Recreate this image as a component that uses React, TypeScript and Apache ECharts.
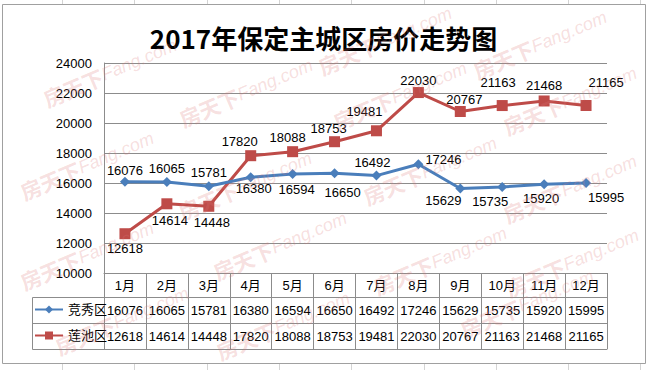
import React, { useEffect, useRef } from "react";
import * as echarts from "echarts";

// Monthly average housing prices (元/㎡), 2017
const months = ["1月", "2月", "3月", "4月", "5月", "6月", "7月", "8月", "9月", "10月", "11月", "12月"];
const jingxiuName = "竞秀区";
const lianchiName = "莲池区";
const jingxiuPrices = [16076, 16065, 15781, 16380, 16594, 16650, 16492, 17246, 15629, 15735, 15920, 15995];
const lianchiPrices = [12618, 14614, 14448, 17820, 18088, 18753, 19481, 22030, 20767, 21163, 21468, 21165];

// Value axis range
const yMin = 10000;
const yMax = 24000;
const yStep = 2000;

// Where each point's value label sits, and a small nudge in pixels
const jingxiuLabelSide = ["top", "top", "top", "bottom", "bottom", "bottom", "top", "right", "bottom", "bottom", "bottom", "bottom"];
const jingxiuLabelNudge = [[0, 2], [0, 0], [0, 0], [3, -2], [4, 2], [8, 6], [-4, 0], [0, -5], [-17, -2], [-12, 1], [-3, 1], [20, 1]];
const lianchiLabelSide = ["bottom", "bottom", "bottom", "top", "top", "top", "top", "top", "top", "top", "top", "top"];
const lianchiLabelNudge = [[0, 1], [3, 3], [3, 2], [-11, 0], [-5, 0], [-6, 1], [-12, -5], [0, 2], [4, 2], [-4, -9], [0, -1], [20, -9]];

// Layout
const W = 647;
const H = 370;
const PLOT_LEFT = 104;
const PLOT_RIGHT = 607;
const PLOT_TOP = 63;
const PLOT_BOTTOM = 273;
const ROW = 26;
const TABLE_LEFT = 32;

const BLUE = "#4A7EBB";
const RED = "#BE4B48";
const GRID = "#8C8C8C";
const FONT = "'Liberation Sans', 'Noto Sans CJK SC', sans-serif";
const MARK_INK = "rgba(220,120,120,0.24)";

// Watermark centres
const watermarkSpots = [
  [110, 72], [246, 92], [385, 40], [540, 44], [87, 165], [245, 185], [400, 95], [430, 170],
  [570, 100], [570, 188], [87, 255], [280, 245], [440, 260], [572, 262], [122, 320], [283, 325], [527, 303],
];

// Faint spreadsheet cell lines outside the chart frame
const sheetColumns = [62, 134, 207, 279, 351, 424, 496, 568, 640];

function buildSeriesData(values: number[], sides: string[], nudges: number[][]) {
  return values.map((v, i) => ({
    value: v,
    label: { position: sides[i], offset: nudges[i] },
  }));
}

export default function App() {
  const ref = useRef<HTMLDivElement>(null);

  useEffect(() => {
    if (!ref.current) return;
    const chart = echarts.init(ref.current, undefined, { renderer: "svg", width: W, height: H });

    const tableBottom = PLOT_BOTTOM + ROW * 3 - 2;
    const graphics: any[] = [];

    // chart frame
    graphics.push({
      type: "rect",
      shape: { x: 2.5, y: 4.5, width: 643, height: 359 },
      style: { fill: "none", stroke: "#A0A0A0", lineWidth: 1 },
      z: 1,
    });
    sheetColumns.forEach((x) => {
      graphics.push({ type: "line", shape: { x1: x + 0.5, y1: 0, x2: x + 0.5, y2: 4 }, style: { stroke: "#D4D4D4", lineWidth: 1 } });
      graphics.push({ type: "line", shape: { x1: x + 0.5, y1: 364, x2: x + 0.5, y2: H }, style: { stroke: "#D4D4D4", lineWidth: 1 } });
    });

    // legend-key column of the data table
    [PLOT_BOTTOM + 24, PLOT_BOTTOM + 50, tableBottom].forEach((y) => {
      graphics.push({
        type: "line",
        shape: { x1: TABLE_LEFT + 0.5, y1: y + 0.5, x2: PLOT_LEFT, y2: y + 0.5 },
        style: { stroke: GRID, lineWidth: 1 },
      });
    });
    graphics.push({
      type: "line",
      shape: { x1: TABLE_LEFT + 0.5, y1: PLOT_BOTTOM + 24.5, x2: TABLE_LEFT + 0.5, y2: tableBottom + 0.5 },
      style: { stroke: GRID, lineWidth: 1 },
    });

    // watermarks
    watermarkSpots.forEach(([x, y]) => {
      graphics.push({
        type: "text",
        x,
        y,
        rotation: 0.4,
        z: 100,
        silent: true,
        style: {
          text: "{a|房天下}{b|Fang.com}",
          align: "center",
          verticalAlign: "middle",
          rich: {
            a: { fontSize: 21, fontWeight: "bold", fontFamily: "'Noto Sans CJK SC', sans-serif", fill: MARK_INK },
            b: { fontSize: 18, fontStyle: "italic", fontFamily: "'Liberation Sans', sans-serif", fill: MARK_INK },
          },
        },
      });
    });

    const tableAxis = (offset: number) => ({
      type: "category",
      data: months,
      position: "bottom",
      offset,
      axisLine: { show: true, lineStyle: { color: GRID, width: 1 } },
      axisTick: { show: false },
      axisLabel: { show: false },
      splitLine: { show: false },
    });

    const option: any = {
      animation: false,
      backgroundColor: "#FFFFFF",
      title: {
        text: "2017年保定主城区房价走势图",
        left: "center",
        top: 19,
        textStyle: {
          fontSize: 26,
          fontWeight: "bold",
          color: "#000000",
          fontFamily: "'Noto Sans CJK SC', sans-serif",
        },
      },
      legend: [
        {
          data: [jingxiuName],
          left: TABLE_LEFT + 2,
          top: PLOT_BOTTOM + 30,
          orient: "vertical",
          padding: 0,
          itemWidth: 28,
          itemHeight: 10,
          textStyle: { fontSize: 13, color: "#000", fontFamily: FONT },
        },
        {
          data: [lianchiName],
          left: TABLE_LEFT + 2,
          top: PLOT_BOTTOM + 56,
          orient: "vertical",
          padding: 0,
          itemWidth: 28,
          itemHeight: 10,
          textStyle: { fontSize: 13, color: "#000", fontFamily: FONT },
        },
      ],
      grid: {
        left: PLOT_LEFT,
        right: W - PLOT_RIGHT,
        top: PLOT_TOP,
        bottom: H - PLOT_BOTTOM,
        containLabel: false,
      },
      xAxis: [
        {
          type: "category",
          data: months,
          boundaryGap: true,
          axisLine: { show: true, lineStyle: { color: GRID, width: 1 } },
          axisTick: { show: true, length: ROW * 3 - 2, inside: false, alignWithLabel: false, lineStyle: { color: GRID, width: 1 } },
          axisLabel: {
            margin: 0,
            interval: 0,
            fontFamily: FONT,
            fontSize: 13,
            color: "#000",
            formatter: (value: string, idx: number) =>
              `{c|${value}}\n{v|${jingxiuPrices[idx]}}\n{v|${lianchiPrices[idx]}}`,
            rich: {
              c: { fontSize: 13, fontFamily: FONT, color: "#000", lineHeight: 24, height: 24 },
              v: { fontSize: 13, fontFamily: FONT, color: "#000", lineHeight: 26, height: 26 },
            },
          },
        },
        tableAxis(24),
        tableAxis(50),
        tableAxis(76),
      ],
      yAxis: {
        type: "value",
        min: yMin,
        max: yMax,
        interval: yStep,
        axisLine: { show: true, lineStyle: { color: GRID, width: 1 } },
        axisTick: { show: false },
        axisLabel: {
          margin: 12,
          fontSize: 13,
          color: "#000",
          fontFamily: FONT,
          formatter: (v: number) => String(v),
        },
        splitLine: { show: true, lineStyle: { color: GRID, width: 1 } },
      },
      series: [
        {
          name: jingxiuName,
          type: "line",
          data: buildSeriesData(jingxiuPrices, jingxiuLabelSide, jingxiuLabelNudge),
          symbol: "diamond",
          symbolSize: 10,
          color: BLUE,
          lineStyle: { color: BLUE, width: 3 },
          itemStyle: { color: BLUE },
          label: { show: true, distance: 2, fontSize: 13, color: "#000", fontFamily: FONT },
          z: 3,
        },
        {
          name: lianchiName,
          type: "line",
          data: buildSeriesData(lianchiPrices, lianchiLabelSide, lianchiLabelNudge),
          symbol: "rect",
          symbolSize: 11,
          color: RED,
          lineStyle: { color: RED, width: 3 },
          itemStyle: { color: RED },
          label: { show: true, distance: 2, fontSize: 13, color: "#000", fontFamily: FONT },
          z: 2,
        },
      ],
      graphic: graphics,
    };

    chart.setOption(option);
    return () => chart.dispose();
  }, []);

  return (
    <div
      ref={ref}
      style={{ position: "fixed", left: 0, top: 0, width: W, height: H, background: "#fff" }}
    />
  );
}
